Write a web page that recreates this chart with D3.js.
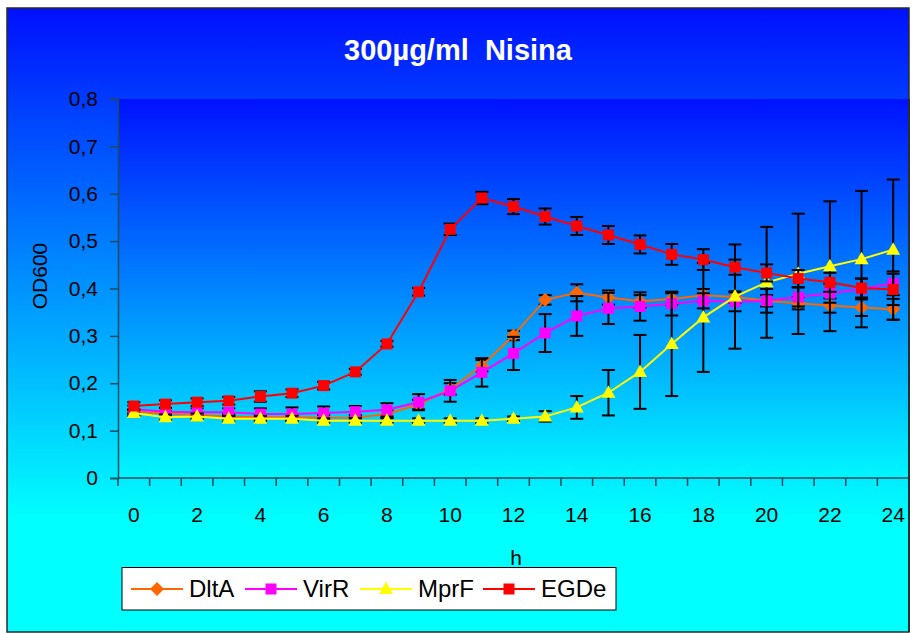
<!DOCTYPE html>
<html>
<head>
<meta charset="utf-8">
<script src="https://cdn.jsdelivr.net/npm/d3@7"></script>
<style>
  html, body { margin: 0; padding: 0; background: #ffffff; }
  svg { display: block; font-family: "Liberation Sans", Arial, Helvetica, sans-serif; }
</style>
</head>
<body>
<svg id="chart" width="913" height="633"></svg>
<script>
// Growth curves (OD600) under 300 µg/ml nisin, mean ± error per hour
const hours = [0, 1, 2, 3, 4, 5, 6, 7, 8, 9, 10, 11, 12, 13, 14, 15, 16, 17, 18, 19, 20, 21, 22, 23, 24];
const hourLabels = ["0", "2", "4", "6", "8", "10", "12", "14", "16", "18", "20", "22", "24"];
const yTicks = [0, 0.1, 0.2, 0.3, 0.4, 0.5, 0.6, 0.7, 0.8];

const dltA = [0.140, 0.136, 0.133, 0.130, 0.128, 0.128, 0.127, 0.127, 0.135, 0.155, 0.188, 0.237, 0.301, 0.376, 0.391, 0.381, 0.373, 0.378, 0.386, 0.382, 0.374, 0.369, 0.364, 0.360, 0.356];
const dltAErr = [0.005, 0.005, 0.005, 0.005, 0.005, 0.006, 0.006, 0.006, 0.008, 0.010, 0.012, 0.012, 0.010, 0.010, 0.018, 0.015, 0.013, 0.012, 0.013, 0.012, 0.012, 0.013, 0.015, 0.018, 0.022];

const virR = [0.145, 0.140, 0.139, 0.139, 0.135, 0.135, 0.137, 0.140, 0.144, 0.160, 0.184, 0.223, 0.263, 0.306, 0.342, 0.358, 0.362, 0.368, 0.374, 0.372, 0.374, 0.382, 0.390, 0.399, 0.411];
const virRErr = [0.008, 0.008, 0.008, 0.008, 0.012, 0.014, 0.014, 0.012, 0.014, 0.017, 0.023, 0.030, 0.035, 0.040, 0.042, 0.033, 0.030, 0.025, 0.016, 0.020, 0.025, 0.020, 0.020, 0.022, 0.025];

const mprF = [0.137, 0.128, 0.130, 0.125, 0.125, 0.125, 0.121, 0.121, 0.121, 0.121, 0.121, 0.121, 0.125, 0.130, 0.149, 0.180, 0.224, 0.283, 0.339, 0.383, 0.413, 0.431, 0.447, 0.462, 0.482];
const mprFErr = [0.006, 0.006, 0.006, 0.006, 0.006, 0.006, 0.005, 0.005, 0.005, 0.005, 0.005, 0.005, 0.005, 0.011, 0.024, 0.048, 0.078, 0.110, 0.115, 0.110, 0.117, 0.127, 0.137, 0.144, 0.148];

const egde = [0.152, 0.156, 0.160, 0.163, 0.172, 0.179, 0.195, 0.224, 0.283, 0.393, 0.525, 0.591, 0.573, 0.552, 0.532, 0.513, 0.493, 0.472, 0.461, 0.445, 0.433, 0.421, 0.413, 0.401, 0.398];
const egdeErr = [0.008, 0.008, 0.008, 0.008, 0.011, 0.008, 0.008, 0.006, 0.006, 0.008, 0.012, 0.013, 0.016, 0.017, 0.019, 0.019, 0.019, 0.022, 0.022, 0.016, 0.018, 0.018, 0.020, 0.020, 0.033];

const seriesNames = ["DltA", "VirR", "MprF", "EGDe"];
const seriesColors = ["#ff6600", "#ff00ff", "#ffff00", "#ff0000"];
const seriesMarkers = ["diamond", "square", "triangle", "square"];

const series = [
  { values: dltA, errors: dltAErr },
  { values: virR, errors: virRErr },
  { values: mprF, errors: mprFErr },
  { values: egde, errors: egdeErr }
].map((s, i) => ({ ...s, name: seriesNames[i], color: seriesColors[i], marker: seriesMarkers[i] }));

const svg = d3.select("#chart");
const defs = svg.append("defs");

// Chart and plot area gradients (blue at top fading to cyan)
const outerGrad = defs.append("linearGradient").attr("id", "outerGrad")
  .attr("x1", 0).attr("y1", 0).attr("x2", 0).attr("y2", 1);
outerGrad.append("stop").attr("offset", "0%").attr("stop-color", "#0010ff");
outerGrad.append("stop").attr("offset", "82%").attr("stop-color", "#00ffff");
outerGrad.append("stop").attr("offset", "100%").attr("stop-color", "#00ffff");

const plotGrad = defs.append("linearGradient").attr("id", "plotGrad")
  .attr("x1", 0).attr("y1", 0).attr("x2", 0).attr("y2", 1);
plotGrad.append("stop").attr("offset", "0%").attr("stop-color", "#0012ff");
plotGrad.append("stop").attr("offset", "100%").attr("stop-color", "#00f6ff");

const frame = { x: 7, y: 8, w: 902, h: 624 };
const plot = { left: 118, right: 909, top: 99, bottom: 478 };

svg.append("rect")
  .attr("x", frame.x).attr("y", frame.y).attr("width", frame.w).attr("height", frame.h)
  .attr("fill", "url(#outerGrad)");

svg.append("rect")
  .attr("x", plot.left).attr("y", plot.top)
  .attr("width", plot.right - plot.left).attr("height", plot.bottom - plot.top)
  .attr("fill", "url(#plotGrad)");

// Scales
const xBand = d3.scaleBand().domain(hours).range([plot.left, plot.right]).padding(0);
const xc = h => xBand(h) + xBand.bandwidth() / 2;
const y = d3.scaleLinear().domain([0, 0.8]).range([plot.bottom, plot.top]);

const axisColor = "#23495a";

// Y axis
const yAxis = d3.axisLeft(y).tickValues(yTicks).tickSize(8).tickPadding(12)
  .tickFormat(d => d3.format(".1f")(d).replace(".", ",").replace(/^0,0$/, "0"));
const gy = svg.append("g").attr("transform", `translate(${plot.left},0)`).call(yAxis);
gy.select(".domain").attr("stroke", axisColor).attr("stroke-width", 1.5);
gy.selectAll(".tick line").attr("stroke", axisColor).attr("stroke-width", 1.5);
gy.selectAll(".tick text").attr("fill", "#000").attr("font-size", 21)
  .attr("font-family", "Liberation Sans, Arial, sans-serif");

// X axis: ticks between categories, labels on every second hour
const gx = svg.append("g");
gx.append("line")
  .attr("x1", plot.left).attr("x2", plot.right + 1)
  .attr("y1", plot.bottom).attr("y2", plot.bottom)
  .attr("stroke", axisColor).attr("stroke-width", 1.5);
const boundaries = hours.map(h => xBand(h)).concat([plot.right]);
gx.selectAll("line.tick").data(boundaries).join("line")
  .attr("class", "tick")
  .attr("x1", d => d).attr("x2", d => d)
  .attr("y1", plot.bottom).attr("y2", plot.bottom + 8)
  .attr("stroke", axisColor).attr("stroke-width", 1.5);
gx.selectAll("text").data(hourLabels).join("text")
  .attr("x", d => xc(+d)).attr("y", 522)
  .attr("text-anchor", "middle").attr("font-size", 21).attr("fill", "#000")
  .text(d => d);

// Right plot edge
svg.append("line")
  .attr("x1", plot.right).attr("x2", plot.right)
  .attr("y1", plot.top).attr("y2", frame.y + frame.h)
  .attr("stroke", "#1c3d55").attr("stroke-width", 2);

// Axis titles
svg.append("text").attr("x", 516).attr("y", 565)
  .attr("text-anchor", "middle").attr("font-size", 21).attr("fill", "#000").text("h");
svg.append("text")
  .attr("transform", "translate(47,276) rotate(-90)")
  .attr("text-anchor", "middle").attr("font-size", 21).attr("fill", "#000").text("OD600");

// Chart title
svg.append("text").attr("x", 458).attr("y", 60)
  .attr("text-anchor", "middle").attr("font-size", 29).attr("font-weight", "bold")
  .attr("fill", "#ffffff").attr("xml:space", "preserve")
  .style("white-space", "pre")
  .text("300µg/ml  Nisina");

// Marker shapes
function markerPath(type) {
  if (type === "diamond") return "M0,-7L7,0L0,7L-7,0Z";
  if (type === "triangle") return "M0,-7.5L7,5L-7,5Z";
  return "M-5.5,-5.5L5.5,-5.5L5.5,5.5L-5.5,5.5Z";
}

const line = d3.line().x((d, i) => xc(hours[i])).y(d => y(d));
const capHalf = 6.5;

series.forEach(s => {
  const g = svg.append("g");
  // error bars
  const eb = g.append("g");
  hours.forEach((h, i) => {
    const cx = xc(h), lo = y(s.values[i] - s.errors[i]), hi = y(s.values[i] + s.errors[i]);
    eb.append("line").attr("x1", cx).attr("x2", cx).attr("y1", lo).attr("y2", hi)
      .attr("stroke", "#000").attr("stroke-width", 2);
    [lo, hi].forEach(yy => eb.append("line")
      .attr("x1", cx - capHalf).attr("x2", cx + capHalf).attr("y1", yy).attr("y2", yy)
      .attr("stroke", "#000").attr("stroke-width", 2));
  });
  // line
  g.append("path").datum(s.values).attr("d", line)
    .attr("fill", "none").attr("stroke", s.color).attr("stroke-width", 2);
  // markers
  g.selectAll("path.mk").data(s.values).join("path")
    .attr("class", "mk")
    .attr("transform", (d, i) => `translate(${xc(hours[i])},${y(d)})`)
    .attr("d", markerPath(s.marker))
    .attr("fill", s.color);
});

// Legend
const legend = svg.append("g");
legend.append("rect").attr("x", 122).attr("y", 567.5).attr("width", 494).attr("height", 42.5)
  .attr("fill", "#ffffff").attr("stroke", "#000").attr("stroke-width", 1);
const legendX = [131, 245, 360, 483];
series.forEach((s, i) => {
  const x0 = legendX[i], cy = 589;
  legend.append("line").attr("x1", x0).attr("x2", x0 + 52).attr("y1", cy).attr("y2", cy)
    .attr("stroke", s.color).attr("stroke-width", 2);
  legend.append("path").attr("transform", `translate(${x0 + 26},${cy})`)
    .attr("d", markerPath(s.marker)).attr("fill", s.color);
  legend.append("text").attr("x", x0 + 58).attr("y", cy + 8)
    .attr("font-size", 24).attr("fill", "#000").text(s.name);
});

// Outer frame
svg.append("rect")
  .attr("x", frame.x).attr("y", frame.y).attr("width", frame.w).attr("height", frame.h)
  .attr("fill", "none").attr("stroke", "#2a2a2a").attr("stroke-width", 1.5);
</script>
</body>
</html>
